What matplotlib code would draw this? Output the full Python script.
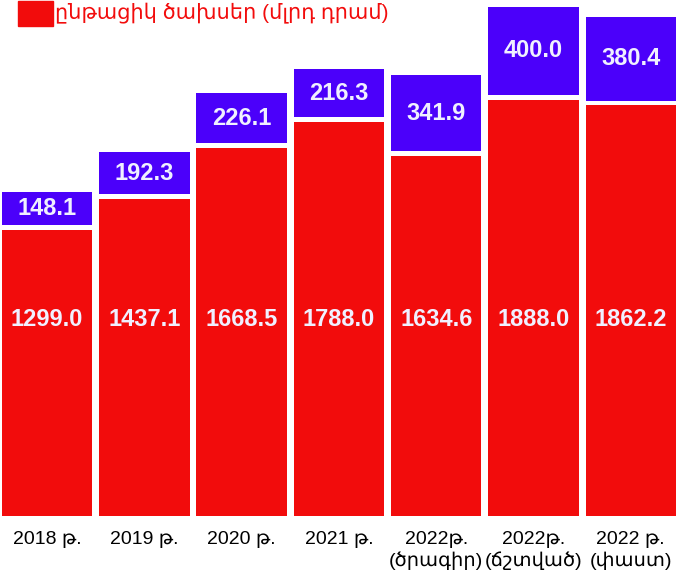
import matplotlib.pyplot as plt
import numpy as np

years = ["2018 թ.", "2019 թ.", "2020 թ.", "2021 թ.",
         "2022թ.\n(ծրագիր)", "2022թ.\n(ճշտված)", "2022 թ.\n(փաստ)"]
current = [1299.0, 1437.1, 1668.5, 1788.0, 1634.6, 1888.0, 1862.2]
capital = [148.1, 192.3, 226.1, 216.3, 341.9, 400.0, 380.4]

red = "#f20c0c"
purple = "#4b00fa"
label_col = "#f0f0ff"
fam = ["Liberation Sans", "DejaVu Sans"]

fig = plt.figure(figsize=(6.78, 5.81), dpi=100)
ax = fig.add_axes([0, 65 / 581, 1, 516 / 581])

x = np.arange(len(years))
gap = 22
ax.bar(x, current, width=0.93, color=red)
ax.bar(x, capital, width=0.93, bottom=np.array(current) + gap, color=purple)

for i in range(len(x)):
    ax.text(x[i], 0.38, f"{current[i]:.1f}", transform=ax.get_xaxis_transform(),
            ha="center", va="center", color=label_col, fontsize=17,
            fontweight="bold", family=fam)
    ax.text(x[i], current[i] + gap + capital[i] / 2, f"{capital[i]:.1f}",
            ha="center", va="center", color=label_col, fontsize=17,
            fontweight="bold", family=fam)

ax.set_xlim(-0.483, 6.485)
ax.set_ylim(0, 2340)
ax.set_xticks(x)
ax.set_xticklabels(years, fontsize=14, family=fam, linespacing=1.2)
ax.tick_params(axis="x", length=0, pad=11)
ax.set_yticks([])
for s in ax.spines.values():
    s.set_visible(False)

# legend (top entry is cut off by the image edge)
fig.patches.append(plt.Rectangle((18 / 678, 1 - 26 / 581), 35 / 678, 25 / 581,
                                 transform=fig.transFigure, color=red))
fig.text(55 / 678, 1 - 13 / 581, "ընթացիկ ծախսեր (մլրդ դրամ)", color=red,
         fontsize=15, va="center", ha="left", family=fam)
fig.text(55 / 678, 1 + 11 / 581, "կապիտալ ծախսեր (մլրդ դրամ)", color=purple,
         fontsize=15, va="center", ha="left", family=fam)

fig.savefig("out.png", dpi=100)
